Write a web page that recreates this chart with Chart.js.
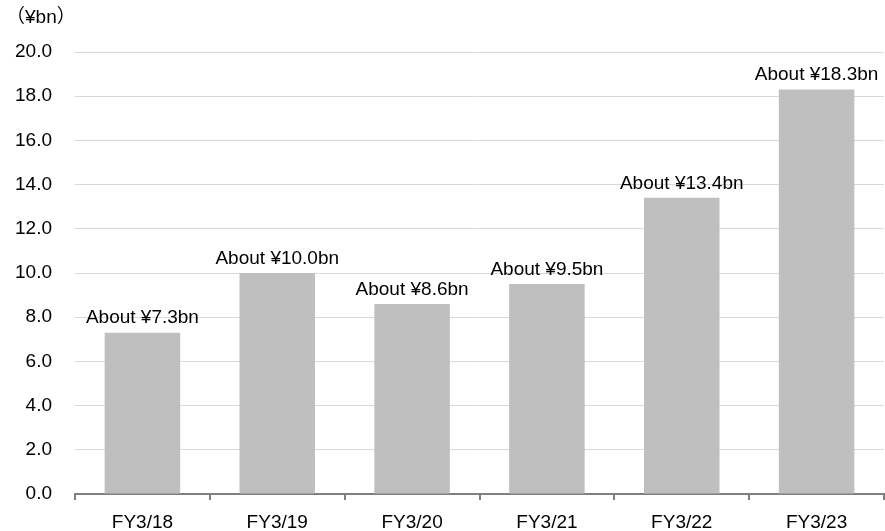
<!DOCTYPE html>
<html>
<head>
<meta charset="utf-8">
<script src="https://cdn.jsdelivr.net/npm/chart.js@4"></script>
<style>
html,body{margin:0;padding:0;background:#fff;}
#wrap{width:885px;height:531px;position:relative;}
</style>
</head>
<body>
<div id="wrap"><canvas id="c"></canvas></div>
<script>
const categories = ["FY3/18","FY3/19","FY3/20","FY3/21","FY3/22","FY3/23"];
const values = [7.3, 10.0, 8.6, 9.5, 13.4, 18.3];
const valueLabels = ["About ¥7.3bn","About ¥10.0bn","About ¥8.6bn","About ¥9.5bn","About ¥13.4bn","About ¥18.3bn"];
const unitLabel = "（¥bn）";

const FONT = '"Liberation Sans", Arial, "Noto Sans CJK JP", sans-serif';

const labelPlugin = {
  id: 'labels',
  afterDatasetsDraw(chart) {
    const ctx = chart.ctx;
    const meta = chart.getDatasetMeta(0);
    ctx.save();
    ctx.font = '19px ' + FONT;
    ctx.fillStyle = '#000';
    ctx.textAlign = 'center';
    ctx.textBaseline = 'bottom';
    meta.data.forEach((bar, i) => {
      ctx.fillText(valueLabels[i], bar.x, bar.y - 5);
    });
    ctx.textAlign = 'left';
    ctx.textBaseline = 'middle';
    ctx.fillText(unitLabel, 6, 18);
    ctx.restore();
  }
};

new Chart(document.getElementById('c'), {
  type: 'bar',
  data: {
    labels: categories,
    datasets: [{
      data: values,
      backgroundColor: '#bfbfbf',
      borderWidth: 0,
      categoryPercentage: 1.0,
      barPercentage: 0.56
    }]
  },
  options: {
    responsive: true,
    maintainAspectRatio: false,
    animation: false,
    layout: { padding: { top: 52, right: 1, left: 0, bottom: 0 } },
    plugins: { legend: { display: false }, tooltip: { enabled: false } },
    scales: {
      x: {
        afterFit(scale) { scale.height = 37; },
        grid: { display: true, drawOnChartArea: false, drawTicks: true, tickLength: 6, color: '#808080', lineWidth: 2 },
        border: { display: true, color: '#808080', width: 2 },
        ticks: { color: '#000', font: { size: 19, family: FONT }, padding: 11, maxRotation: 0 }
      },
      y: {
        min: 0, max: 20,
        afterFit(scale) { scale.width = 75; },
        grid: { color: '#d9d9d9', lineWidth: 1, drawTicks: false },
        border: { display: false },
        ticks: { stepSize: 2, color: '#000', font: { size: 19, family: FONT }, padding: 23,
          callback: v => Number(v).toFixed(1) }
      }
    }
  },
  plugins: [labelPlugin]
});
</script>
</body>
</html>
